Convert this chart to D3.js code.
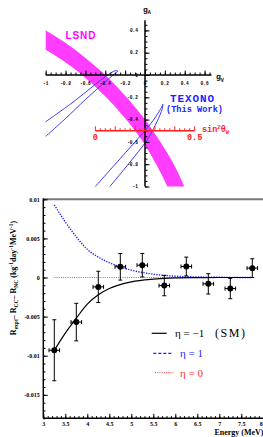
<!DOCTYPE html>
<html>
<head>
<meta charset="utf-8">
<script src="https://cdn.jsdelivr.net/npm/d3@7"></script>
<style>
body { margin: 0; background: #fff; }
svg { display: block; }
</style>
</head>
<body>
<div id="container"></div>
<script>
// ---- top panel data (gV, gA plane) ----
var lsndGA    = [0.5, 0.4, 0.3, 0.2, 0.1, 0.0, -0.2, -0.4, -0.5, -0.6, -0.8, -1.0, -1.1];
var lsndOuter = [-1.23, -1.0, -0.82, -0.665, -0.53, -0.40, -0.185, 0.0, 0.08, 0.155, 0.29, 0.396, 0.445];
var lsndInner = [-1.8, -1.51, -1.17, -0.95, -0.78, -0.634, -0.39, -0.19, -0.10, -0.02, 0.113, 0.225, 0.272];

var texonoUpper = [[-1.05,-0.59],[-0.8,-0.39],[-0.6,-0.22],[-0.45,-0.10],[-0.36,-0.03],[-0.30,0.015],
                   [-0.275,0.035],[-0.30,0.038],[-0.4,-0.015],[-0.55,-0.12],[-0.75,-0.26],[-1.05,-0.45]];
var texonoLower = [[-0.55,-1.05],[-0.3,-0.80],[-0.1,-0.60],[0.0,-0.50],[0.08,-0.41],[0.14,-0.33],
                   [0.175,-0.275],[0.18,-0.262],[0.175,-0.30],[0.12,-0.42],[0.05,-0.54],[0.0,-0.61],
                   [-0.15,-0.78],[-0.4,-1.05]];

var gvLabels = [-1, -0.8, -0.6, -0.4, -0.2, 0, 0.2, 0.4, 0.6];
var gaLabels = [0.4, 0.2, -0.2, -0.4, -0.6, -0.8, -1];
var sinLabels = [0, 0.5];

// ---- bottom panel data ----
var energy = [3.25, 3.75, 4.25, 4.75, 5.25, 5.75, 6.25, 6.75, 7.25, 7.75];
var resid  = [-0.0093, -0.0057, -0.0012, 0.00137, 0.00158, -0.00103, 0.00141, -0.00081, -0.00141, 0.0012];
var residErr = [0.0039, 0.0024, 0.002, 0.0017, 0.0015, 0.0013, 0.0012, 0.0013, 0.0013, 0.0012];
var energyErr = 0.12;

var curveE   = [3.25, 3.5, 3.75, 4.0, 4.25, 4.5, 5.0, 5.5, 6.0, 6.5, 7.0, 7.75];
var etaMinus = [-0.0093, -0.0071, -0.0052, -0.0034, -0.0022, -0.0014, -0.00055, -0.0002, -0.00005, -0.00002, 0, 0];
var etaPlus  = [0.0093, 0.0071, 0.0052, 0.0036, 0.0026, 0.0019, 0.00094, 0.00043, 0.00017, 0.00007, 0.00003, 0];
var etaZero  = [0, 0, 0, 0, 0, 0, 0, 0, 0, 0, 0, 0];

var xLabels = [3, 3.5, 4, 4.5, 5, 5.5, 6, 6.5, 7, 7.5, 8];
var yLabels = [0.01, 0.005, 0, -0.005, -0.01, -0.015];

var mono = "'Liberation Mono', 'DejaVu Sans Mono', monospace";
var serif = "'Liberation Serif', 'DejaVu Serif', serif";

var svg = d3.select("#container").append("svg")
            .attr("width", 263)
            .attr("height", 437);

var defs = svg.append("defs");

// ================= top panel =================
var xT = d3.scaleLinear().domain([-1, 0.7]).range([45.7, 214.5]);
var yT = d3.scaleLinear().domain([-1, 0.5]).range([186.5, 19.25]);

defs.append("clipPath").attr("id", "topclip")
    .append("rect")
    .attr("x", xT(-1)).attr("y", yT(0.5))
    .attr("width", xT(0.7) - xT(-1)).attr("height", yT(-1) - yT(0.5));

var topG = svg.append("g");
var plot = topG.append("g").attr("clip-path", "url(#topclip)");

var band = d3.area()
             .y(function(d, i) { return yT(lsndGA[i]); })
             .x0(function(d, i) { return xT(lsndInner[i]); })
             .x1(function(d, i) { return xT(lsndOuter[i]); })
             .curve(d3.curveCatmullRom);
plot.append("path")
    .attr("d", band(lsndGA))
    .attr("fill", "#ff3cff");

var ell = d3.line()
            .x(function(d) { return xT(d[0]); })
            .y(function(d) { return yT(d[1]); })
            .curve(d3.curveCatmullRom);
[texonoUpper, texonoLower].forEach(function(c) {
  plot.append("path")
      .attr("d", ell(c))
      .attr("fill", "none")
      .attr("stroke", "#3a3aff")
      .attr("stroke-width", 1);
});

// gV axis
var gvMinor = d3.range(-1, 0.66, 0.05);
topG.append("g")
   .attr("transform", "translate(0," + yT(0) + ")")
   .call(d3.axisTop(xT).tickValues(gvMinor).tickSize(2.5).tickFormat(""))
   .call(function(g) { g.select(".domain").remove(); });
topG.append("g")
   .attr("transform", "translate(0," + yT(0) + ")")
   .call(d3.axisTop(xT).tickValues(gvLabels).tickSize(4.5).tickFormat(""))
   .call(function(g) { g.select(".domain").remove(); });
topG.append("line")
   .attr("x1", xT(-1)).attr("x2", xT(0.67))
   .attr("y1", yT(0)).attr("y2", yT(0))
   .attr("stroke", "black").attr("stroke-width", 1.5);
topG.selectAll("text.gv")
   .data(gvLabels)
   .enter()
   .append("text")
   .attr("x", function(d) { return xT(d); })
   .attr("y", yT(0) + 10)
   .attr("text-anchor", "middle")
   .style("font", "bold 4.5px " + mono)
   .text(function(d) { return d; });

// gA axis
var gaMinor = d3.range(-1, 0.46, 0.05);
topG.append("g")
   .attr("transform", "translate(" + xT(0) + ",0)")
   .call(d3.axisRight(yT).tickValues(gaMinor).tickSize(2.5).tickFormat(""))
   .call(function(g) { g.select(".domain").remove(); });
topG.append("g")
   .attr("transform", "translate(" + xT(0) + ",0)")
   .call(d3.axisRight(yT).tickValues([-1, -0.8, -0.6, -0.4, -0.2, 0, 0.2, 0.4]).tickSize(4.5).tickFormat(""))
   .call(function(g) { g.select(".domain").remove(); });
topG.append("line")
   .attr("x1", xT(0)).attr("x2", xT(0))
   .attr("y1", yT(-1)).attr("y2", yT(0.49))
   .attr("stroke", "black").attr("stroke-width", 1.5);
topG.selectAll("text.ga")
   .data(gaLabels)
   .enter()
   .append("text")
   .attr("x", xT(0) - 7)
   .attr("y", function(d) { return yT(d) + 1.6; })
   .attr("text-anchor", "end")
   .style("font", "bold 4.5px " + mono)
   .text(function(d) { return d; });
topG.append("text")
   .attr("x", xT(0) - 7).attr("y", yT(0) + 1.6)
   .attr("text-anchor", "end")
   .style("font", "bold 4.5px " + mono)
   .text("0");

// axis names
var gA = topG.append("text").attr("x", 143).attr("y", 11.5)
            .style("font", "bold 8px " + mono);
gA.append("tspan").text("g");
gA.append("tspan").attr("dy", 2.5).style("font-size", "5px").text("A");
var gV = topG.append("text").attr("x", 216).attr("y", 79)
            .style("font", "bold 8px " + mono);
gV.append("tspan").text("g");
gV.append("tspan").attr("dy", 2.5).style("font-size", "5px").text("V");

// sin^2 theta_W axis (gV = -1/2 + 2 sin^2, gA = -1/2)
var sMinor = d3.range(0, 0.501, 0.025);
var red = "#ff2020";
var redAx = topG.append("g").attr("transform", "translate(0," + yT(-0.5) + ")");
redAx.selectAll("line.mn")
     .data(sMinor)
     .enter()
     .append("line")
     .attr("x1", function(d) { return xT(-0.5 + 2 * d); })
     .attr("x2", function(d) { return xT(-0.5 + 2 * d); })
     .attr("y1", 0)
     .attr("y2", function(d, i) { return i % 4 === 0 ? -4.5 : -2.5; })
     .attr("stroke", red).attr("stroke-width", 1);
redAx.append("line")
     .attr("x1", xT(-0.5)).attr("x2", xT(0.5))
     .attr("stroke", red).attr("stroke-width", 1.5);
redAx.selectAll("text.s")
     .data(sinLabels)
     .enter()
     .append("text")
     .attr("x", function(d) { return xT(-0.5 + 2 * d); })
     .attr("y", 9.5)
     .attr("text-anchor", "middle")
     .attr("fill", red)
     .style("font", "bold 8.5px " + mono)
     .text(function(d) { return d; });
var sw = redAx.append("text").attr("x", 202).attr("y", 1)
              .attr("fill", red)
              .style("font", "bold 8.5px " + mono);
sw.append("tspan").text("sin");
sw.append("tspan").attr("dy", -3).style("font-size", "5.5px").text("2");
sw.append("tspan").attr("dy", 3).text("\u03b8");
sw.append("tspan").attr("dy", 2).style("font-size", "5.5px").text("W");

// labels
topG.append("text").attr("x", 65.5).attr("y", 39.3)
   .attr("fill", "#ff00ff")
   .attr("textLength", 30)
   .style("font", "bold 10px 'Liberation Sans', Arial, sans-serif")
   .text("LSND");
topG.append("text").attr("x", 170).attr("y", 101.7)
   .attr("fill", "#2222ff")
   .attr("textLength", 44)
   .style("font", "bold 11px " + mono)
   .text("TEXONO");
topG.append("text").attr("x", 166).attr("y", 112)
   .attr("fill", "#2222ff")
   .attr("textLength", 57)
   .style("font", "bold 8.6px " + mono)
   .text("(This Work)");

// ================= bottom panel =================
var xB = d3.scaleLinear().domain([3, 8]).range([43.3, 263.3]);
var yB = d3.scaleLinear().domain([-0.018, 0.01]).range([418.3, 199.3]);

var bot = svg.append("g");

bot.append("line")
   .attr("x1", xB(3)).attr("x2", 263)
   .attr("y1", yB(0.01)).attr("y2", yB(0.01))
   .attr("stroke", "#7a7a7a").attr("stroke-width", 2);

// y axis
bot.append("g")
   .attr("transform", "translate(" + xB(3) + ",0)")
   .call(d3.axisLeft(yB).tickValues(d3.range(-0.018, 0.0101, 0.001)).tickSizeInner(-2.2).tickSizeOuter(0).tickFormat(""))
   .call(function(g) { g.select(".domain").remove(); });
bot.append("g")
   .attr("transform", "translate(" + xB(3) + ",0)")
   .call(d3.axisLeft(yB).tickValues(yLabels).tickSizeInner(-4.5).tickSizeOuter(0).tickPadding(3.5)
           .tickFormat(function(d) { return String(d); }))
   .call(function(g) {
     g.select(".domain").remove();
     g.selectAll("text").style("font", "bold 6px " + serif).attr("fill", "black");
   });

// x axis
bot.append("g")
   .attr("transform", "translate(0," + yB(-0.018) + ")")
   .call(d3.axisBottom(xB).tickValues(d3.range(3, 8.01, 0.1)).tickSizeInner(-2.2).tickSizeOuter(0).tickFormat(""))
   .call(function(g) { g.select(".domain").remove(); });
bot.append("g")
   .attr("transform", "translate(0," + yB(-0.018) + ")")
   .call(d3.axisBottom(xB).tickValues(xLabels).tickSizeInner(-4.5).tickSizeOuter(0).tickPadding(3.5)
           .tickFormat(function(d) { return String(d); }))
   .call(function(g) {
     g.select(".domain").remove();
     g.selectAll("text").style("font", "bold 6px " + serif).attr("fill", "black");
     g.selectAll("text").filter(function(d) { return d === 8; }).attr("x", -2.5);
   });

bot.append("line")
   .attr("x1", xB(3)).attr("x2", xB(3))
   .attr("y1", yB(0.01) - 1).attr("y2", yB(-0.018))
   .attr("stroke", "black").attr("stroke-width", 1.5);
bot.append("line")
   .attr("x1", xB(3)).attr("x2", 263)
   .attr("y1", yB(-0.018)).attr("y2", yB(-0.018))
   .attr("stroke", "black").attr("stroke-width", 1.5);

// curves
var lineB = d3.line()
              .x(function(d, i) { return xB(curveE[i]); })
              .y(function(d) { return yB(d); })
              .curve(d3.curveMonotoneX);
bot.append("path").attr("d", lineB(etaZero))
   .attr("fill", "none").attr("stroke", "#ff3030").attr("stroke-width", 0.9)
   .attr("stroke-dasharray", "1,1.2");
bot.append("path").attr("d", lineB(etaPlus))
   .attr("fill", "none").attr("stroke", "#2020ff").attr("stroke-width", 1.4)
   .attr("stroke-dasharray", "1.3,1.3");
bot.append("path").attr("d", lineB(etaMinus))
   .attr("fill", "none").attr("stroke", "black").attr("stroke-width", 1.2);

// data points
var pts = bot.selectAll("g.pt")
             .data(energy)
             .enter()
             .append("g");
pts.append("line")
   .attr("x1", function(d) { return xB(d); })
   .attr("x2", function(d) { return xB(d); })
   .attr("y1", function(d, i) { return yB(resid[i] + residErr[i]); })
   .attr("y2", function(d, i) { return yB(resid[i] - residErr[i]); })
   .attr("stroke", "black").attr("stroke-width", 1);
pts.append("line")
   .attr("x1", function(d) { return xB(d - energyErr); })
   .attr("x2", function(d) { return xB(d + energyErr); })
   .attr("y1", function(d, i) { return yB(resid[i]); })
   .attr("y2", function(d, i) { return yB(resid[i]); })
   .attr("stroke", "black").attr("stroke-width", 1);
[1, -1].forEach(function(s) {
  pts.append("line")
     .attr("x1", function(d) { return xB(d) - 2; })
     .attr("x2", function(d) { return xB(d) + 2; })
     .attr("y1", function(d, i) { return yB(resid[i] + s * residErr[i]); })
     .attr("y2", function(d, i) { return yB(resid[i] + s * residErr[i]); })
     .attr("stroke", "black").attr("stroke-width", 1);
  pts.append("line")
     .attr("x1", function(d) { return xB(d + s * energyErr); })
     .attr("x2", function(d) { return xB(d + s * energyErr); })
     .attr("y1", function(d, i) { return yB(resid[i]) - 2; })
     .attr("y2", function(d, i) { return yB(resid[i]) + 2; })
     .attr("stroke", "black").attr("stroke-width", 1);
});
pts.append("circle")
   .attr("cx", function(d) { return xB(d); })
   .attr("cy", function(d, i) { return yB(resid[i]); })
   .attr("r", 3)
   .attr("fill", "black");

// legend
var legend = [
  { text: "\u03b7 = \u22121", extra: "(SM)", color: "black", dash: null, w: 1.2, x1: 151.7, x2: 166.7, y: 333.3, tx: 175 },
  { text: "\u03b7 = 1", extra: null, color: "#2020ff", dash: "3,2", w: 1.2, x1: 153.3, x2: 171.7, y: 353.3, tx: 180 },
  { text: "\u03b7 = 0", extra: null, color: "#ff3030", dash: "1,1.2", w: 1, x1: 155, x2: 173.3, y: 372.7, tx: 180 }
];
legend.forEach(function(l) {
  bot.append("line")
     .attr("x1", l.x1).attr("x2", l.x2)
     .attr("y1", l.y).attr("y2", l.y)
     .attr("stroke", l.color).attr("stroke-width", l.w)
     .attr("stroke-dasharray", l.dash);
  bot.append("text")
     .attr("x", l.tx).attr("y", l.y + 3.8)
     .attr("fill", l.color)
     .style("font", "11px " + serif)
     .text(l.text);
  if (l.extra) {
    bot.append("text")
       .attr("x", 215).attr("y", l.y + 3.8)
       .attr("fill", l.color)
       .attr("textLength", 30)
       .style("font", "12px " + serif)
       .text(l.extra);
  }
});

// titles
bot.append("text")
   .attr("x", 263.5).attr("y", 434.5)
   .attr("text-anchor", "end")
   .style("font", "bold 8px " + serif)
   .text("Energy (MeV)");

var yt = bot.append("text")
            .attr("transform", "translate(16,278) rotate(-90)")
            .attr("text-anchor", "middle")
            .style("font", "bold 8px " + serif);
[["R", 0], ["expt", 2], ["\u2013 R", -2], ["CC", 2], ["\u2013 R", -2], ["NC", 2], [" (kg", -2],
 ["-1", -3.5], ["day", 3.5], ["-1", -3.5], ["MeV", 3.5], ["-1", -3.5], [")", 3.5]].forEach(function(p) {
  var small = (p[0] === "expt" || p[0] === "CC" || p[0] === "NC" || p[0] === "-1");
  yt.append("tspan")
    .attr("dy", p[1])
    .style("font-size", small ? "5.5px" : "8px")
    .text(p[0]);
});
</script>
</body>
</html>
